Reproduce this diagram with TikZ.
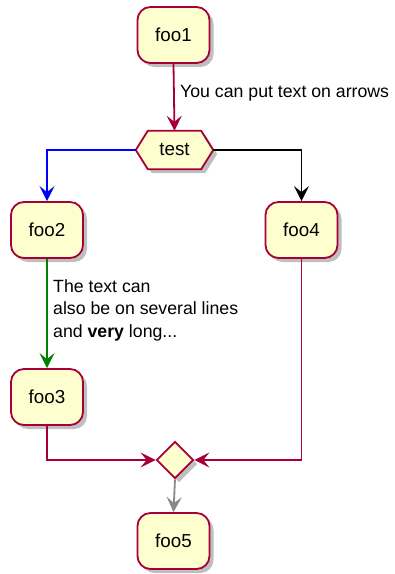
\documentclass[tikz,border=0pt]{standalone}
\usepackage{fontspec}
\setmainfont{Liberation Sans}
\usetikzlibrary{arrows.meta,shapes.geometric,shadows}
\definecolor{umlborder}{HTML}{A80036}
\definecolor{umlfill}{HTML}{FEFECE}
\definecolor{umlgreen}{HTML}{008000}
\definecolor{umlgray}{HTML}{888888}
\tikzset{
  shade3/.style={drop shadow={shadow xshift=4pt,shadow yshift=-4pt,opacity=0.25,fill=black}},
  actbox/.style={rectangle,rounded corners=13pt,draw=umlborder,fill=umlfill,line width=1.8pt,
    minimum width=72pt,minimum height=56pt,inner sep=0pt,font=\fontsize{18.8}{22}\selectfont,shade3},
  hexbox/.style={rectangle,minimum width=77pt,minimum height=38pt,inner sep=0pt,font=\fontsize{18.8}{22}\selectfont},
  mergebox/.style={diamond,aspect=1,minimum size=37pt,inner sep=0pt,draw=umlborder,fill=umlfill,line width=1.8pt,shade3},
  flow/.style={line width=1.8pt,-{Stealth[length=15pt,width=15pt,inset=6pt]}},
  flowlabel/.style={font=\fontsize{17.7}{22.5}\selectfont,align=left,anchor=west,inner sep=0pt}
}
\begin{document}
\begin{tikzpicture}[x=1pt,y=-1pt]
\useasboundingbox (0,0) rectangle (395,574);
\node[actbox] (foo1) at (173.5,35) {foo1};
\node[hexbox] (test) at (174.5,150) {};
\draw[draw=umlborder,fill=umlfill,line width=1.8pt,shade3]
  (test.west) -- ([xshift=12pt]test.north west) -- ([xshift=-12pt]test.north east)
  -- (test.east) -- ([xshift=-12pt]test.south east) -- ([xshift=12pt]test.south west) -- cycle;
\node[hexbox] at (test.center) {test};
\node[actbox] (foo2) at (47,230) {foo2};
\node[actbox] (foo4) at (301.5,230) {foo4};
\node[actbox] (foo3) at (47,397) {foo3};
\node[mergebox] (merge) at (175,460) {};
\node[actbox] (foo5) at (173.5,541) {foo5};

\draw[flow,umlborder] (foo1.south) -- (test.north);
\node[flowlabel] (lab1) at (180,93) {You can put text on arrows};
\draw[flow,blue] (test.west) -| (foo2.north);
\draw[flow,black] (test.east) -| (foo4.north);
\draw[flow,umlgreen] (foo2.south) -- (foo3.north);
\node[flowlabel] (lab2) at (53,310) {The text can\\also be on several lines\\and \textbf{very} long...};
\draw[flow,umlborder] (foo3.south) |- (merge.west);
\draw[flow,umlborder] (foo4.south) |- (merge.east);
\draw[flow,umlgray] (merge.south) -- (foo5.north);
\end{tikzpicture}
\end{document}
